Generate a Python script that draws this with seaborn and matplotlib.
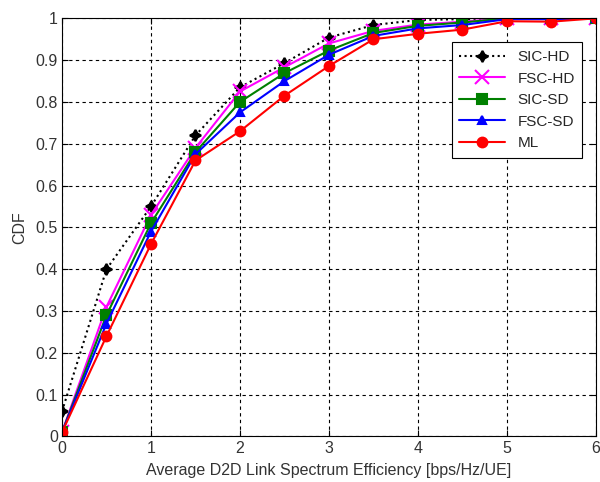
import matplotlib
matplotlib.use("Agg")
import matplotlib.pyplot as plt
import seaborn as sns
import pandas as pd

x_vals = [0, 0.5, 1, 1.5, 2, 2.5, 3, 3.5, 4, 4.5, 5, 5.5, 6]
sic_hd = [0.06, 0.40, 0.55, 0.72, 0.835, 0.893, 0.954, 0.984, 0.996, 0.998, 1.0, 1.0, 1.0]
fsc_hd = [0.01, 0.31, 0.53, 0.69, 0.825, 0.883, 0.94, 0.970, 0.985, 0.992, 1.0, 1.0, 1.0]
sic_sd = [0.01, 0.29, 0.51, 0.68, 0.800, 0.869, 0.923, 0.965, 0.982, 0.990, 1.0, 1.0, 1.0]
fsc_sd = [0.01, 0.27, 0.49, 0.675, 0.775, 0.850, 0.913, 0.958, 0.976, 0.984, 0.998, 0.998, 1.0]
ml = [0.01, 0.24, 0.46, 0.66, 0.730, 0.815, 0.886, 0.950, 0.963, 0.973, 0.993, 0.992, 1.0]

series_names = ["SIC-HD", "FSC-HD", "SIC-SD", "FSC-SD", "ML"]
series_vals = [sic_hd, fsc_hd, sic_sd, fsc_sd, ml]
colors = ["black", "#ff00ff", "#008000", "#0000ff", "#ff0000"]
markers = [(4, 1, 0), "x", "s", "^", "o"]
linestyles = [":", "-", "-", "-", "-"]
msizes = [8, 10, 7, 6, 7]

sns.set_style("white")
plt.rcParams["font.family"] = ["Liberation Sans", "DejaVu Sans"]

fig = plt.figure(figsize=(6.0, 4.82), dpi=100)
ax = fig.add_axes([0.1033, 0.0944, 0.89, 0.8676])

for name, vals, c, m, ls, ms in zip(series_names, series_vals, colors, markers, linestyles, msizes):
    df = pd.DataFrame({"x": x_vals, "y": vals})
    sns.lineplot(data=df, x="x", y="y", ax=ax, color=c, marker=m, linestyle=ls,
                 linewidth=1.5, markersize=ms, markeredgecolor=c, markeredgewidth=1.5,
                 label=name)

ax.set_xlim(0, 6)
ax.set_ylim(0, 1)
ax.set_xticks([0, 1, 2, 3, 4, 5, 6])
ax.set_yticks([0, 0.1, 0.2, 0.3, 0.4, 0.5, 0.6, 0.7, 0.8, 0.9, 1])
ax.set_xticklabels(["0", "1", "2", "3", "4", "5", "6"])
ax.set_yticklabels(["0", "0.1", "0.2", "0.3", "0.4", "0.5", "0.6", "0.7", "0.8", "0.9", "1"])
ax.grid(True, color="black", linestyle=(0, (3, 3)), linewidth=0.8)
ax.set_axisbelow(True)
ax.tick_params(direction="in", length=4, labelsize=11.5, colors="black", pad=3,
               top=True, right=True, bottom=True, left=True)
for lbl in ax.get_xticklabels() + ax.get_yticklabels():
    lbl.set_color("#333333")
for sp in ax.spines.values():
    sp.set_color("black")
    sp.set_linewidth(0.8)
ax.set_xlabel("Average D2D Link Spectrum Efficiency [bps/Hz/UE]", fontsize=11.5,
              color="#333333", labelpad=5)
ax.set_ylabel("CDF", fontsize=11.5, color="#333333", labelpad=6)

leg = ax.legend(loc="upper right", bbox_to_anchor=(0.989, 0.961), fontsize=11,
                frameon=True, fancybox=False, handlelength=3.0, borderpad=0.5,
                labelspacing=0.5, edgecolor="black", framealpha=1)
leg.get_frame().set_linewidth(0.8)

fig.savefig("out.png", dpi=100)
